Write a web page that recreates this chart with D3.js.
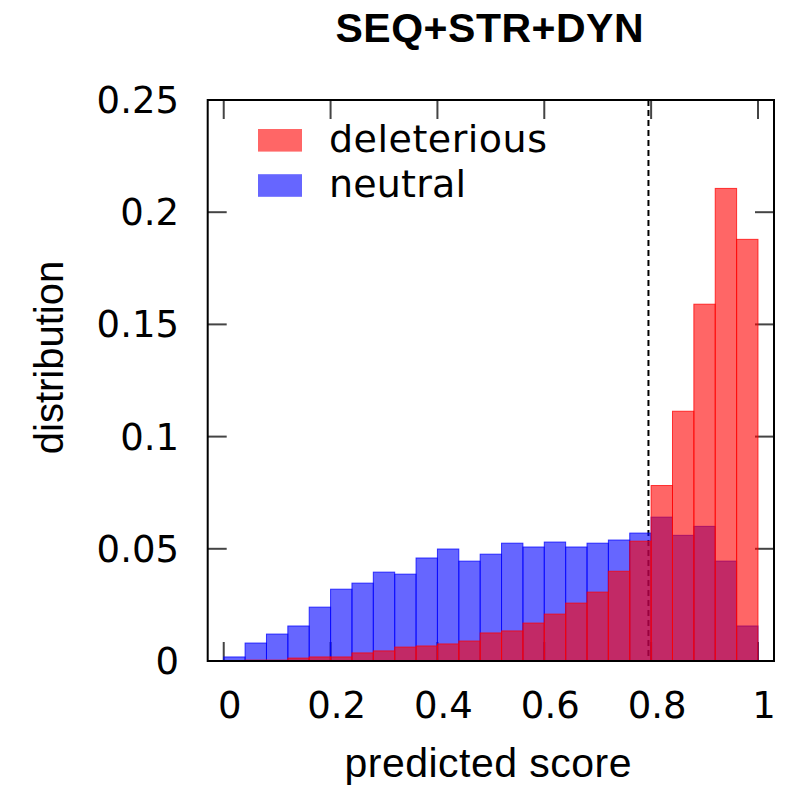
<!DOCTYPE html>
<html>
<head>
<meta charset="utf-8">
<script src="https://cdn.jsdelivr.net/npm/d3@7"></script>
<style>
  body { margin: 0; background: #fff; }
</style>
</head>
<body>
<div id="chart"></div>
<script>
// histogram bins (lower edge of each 0.04 wide bin)
let binStarts = [0, 0.04, 0.08, 0.12, 0.16, 0.20, 0.24, 0.28, 0.32, 0.36, 0.40, 0.44, 0.48,
                 0.52, 0.56, 0.60, 0.64, 0.68, 0.72, 0.76, 0.80, 0.84, 0.88, 0.92, 0.96];
let binWidth = 0.04;

let neutral = [0.0018, 0.0080, 0.0120, 0.0156, 0.0240, 0.0320, 0.0347, 0.0396, 0.0387, 0.0459,
               0.0499, 0.0445, 0.0476, 0.0525, 0.0508, 0.0530, 0.0508, 0.0525, 0.0539, 0.0570,
               0.0641, 0.0560, 0.0600, 0.0445, 0.0156];
let deleterious = [0.0001, 0.0004, 0.0004, 0.0013, 0.0018, 0.0018, 0.0036, 0.0045, 0.0062, 0.0067,
                   0.0076, 0.0089, 0.0125, 0.0134, 0.0169, 0.0209, 0.0258, 0.0307, 0.0400, 0.0534,
                   0.0782, 0.1113, 0.1590, 0.2106, 0.1879];

let threshold = 0.795;
let xTicks = [0, 0.2, 0.4, 0.6, 0.8, 1];
let yTicks = [0, 0.05, 0.1, 0.15, 0.2, 0.25];
let yTickLabels = ["0", "0.05", "0.1", "0.15", "0.2", "0.25"];

let width = 789, height = 789;
let plotLeft = 207.7, plotRight = 774, plotTop = 100, plotBottom = 661;

let svg = d3.select("#chart").append("svg").attr("width", width).attr("height", height);

let x = d3.scaleLinear().domain([-0.03, 1.03]).range([plotLeft, plotRight]);
let y = d3.scaleLinear().domain([0, 0.25]).range([plotBottom, plotTop]);

let tickFont = "'DejaVu Sans', sans-serif";
let labelFont = "'Liberation Sans', Arial, sans-serif";
let tickLen = 19;

// inward ticks on all four sides
let tickG = svg.append("g").attr("stroke", "#444").attr("stroke-width", 2);
xTicks.forEach(t => {
    tickG.append("line").attr("x1", x(t)).attr("x2", x(t)).attr("y1", plotBottom).attr("y2", plotBottom - tickLen);
    tickG.append("line").attr("x1", x(t)).attr("x2", x(t)).attr("y1", plotTop).attr("y2", plotTop + tickLen);
});
yTicks.forEach(t => {
    tickG.append("line").attr("x1", plotLeft).attr("x2", plotLeft + tickLen).attr("y1", y(t)).attr("y2", y(t));
    tickG.append("line").attr("x1", plotRight).attr("x2", plotRight - tickLen).attr("y1", y(t)).attr("y2", y(t));
});

// decision threshold
svg.append("line")
    .attr("x1", x(threshold)).attr("x2", x(threshold))
    .attr("y1", plotTop).attr("y2", plotBottom)
    .attr("stroke", "#000")
    .attr("stroke-width", 2)
    .attr("stroke-dasharray", "6,4");

function drawBars(values, color) {
    svg.append("g").selectAll("rect").data(values).enter().append("rect")
        .attr("x", (d, i) => x(binStarts[i]))
        .attr("width", (d, i) => x(binStarts[i] + binWidth) - x(binStarts[i]))
        .attr("y", d => y(d))
        .attr("height", d => y(0) - y(d))
        .attr("fill", color)
        .attr("fill-opacity", 0.6)
        .attr("stroke", color)
        .attr("stroke-opacity", 0.75)
        .attr("stroke-width", 1);
}
drawBars(neutral, "#0000ff");
drawBars(deleterious, "#ff0000");

// frame
svg.append("rect")
    .attr("x", plotLeft).attr("y", plotTop)
    .attr("width", plotRight - plotLeft).attr("height", plotBottom - plotTop)
    .attr("fill", "none")
    .attr("stroke", "#000")
    .attr("stroke-width", 2);

// tick labels
svg.append("g").selectAll("text").data(xTicks).enter().append("text")
    .attr("x", d => x(d) + 6)
    .attr("y", 718)
    .attr("text-anchor", "middle")
    .attr("font-family", tickFont)
    .attr("font-size", 37)
    .text(d => d3.format("")(d));

svg.append("g").selectAll("text").data(yTicks).enter().append("text")
    .attr("x", 179)
    .attr("y", d => y(d) + 13)
    .attr("text-anchor", "end")
    .attr("font-family", tickFont)
    .attr("font-size", 37)
    .text((d, i) => yTickLabels[i]);

// title and axis labels
svg.append("text")
    .attr("x", 489.5).attr("y", 42)
    .attr("text-anchor", "middle")
    .attr("font-family", labelFont)
    .attr("font-weight", "bold")
    .attr("font-size", 41)
    .attr("textLength", 308)
    .text("SEQ+STR+DYN");

svg.append("text")
    .attr("x", 488).attr("y", 777)
    .attr("text-anchor", "middle")
    .attr("font-family", labelFont)
    .attr("font-size", 41)
    .attr("textLength", 287)
    .text("predicted score");

svg.append("text")
    .attr("transform", "translate(63,357.5) rotate(-90)")
    .attr("text-anchor", "middle")
    .attr("font-family", labelFont)
    .attr("font-size", 40)
    .text("distribution");

// legend
let legend = [["deleterious", "#ff0000", 218], ["neutral", "#0000ff", 137]];
legend.forEach((l, i) => {
    let cy = 140.3 + i * 45.2;
    svg.append("rect")
        .attr("x", 258).attr("y", cy - 11.3)
        .attr("width", 44).attr("height", 22.6)
        .attr("fill", l[1])
        .attr("fill-opacity", 0.6);
    svg.append("text")
        .attr("x", 329).attr("y", cy + 11.5)
        .attr("font-family", tickFont)
        .attr("font-size", 38)
        .attr("textLength", l[2])
        .text(l[0]);
});
</script>
</body>
</html>
